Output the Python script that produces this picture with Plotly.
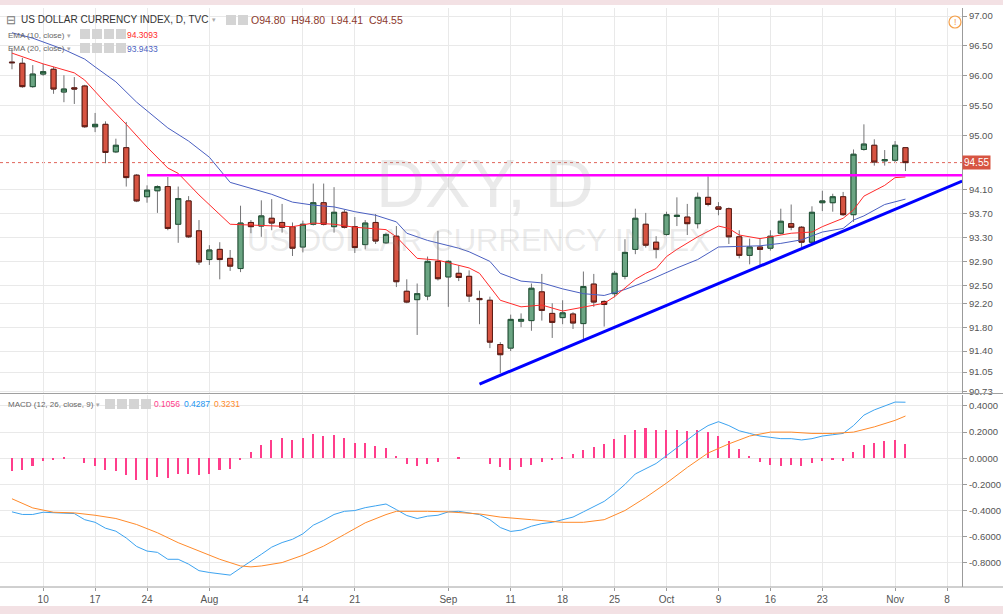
import pandas as pd
import plotly.graph_objects as go

# ---------------- data ----------------
dates = [d.strftime("%Y-%m-%d") for d in pd.bdate_range("2017-07-05", "2017-11-02")]

opens = [96.23, 96.21, 95.82, 96.03, 96.11, 95.73, 95.80, 95.83, 95.15, 95.19,
         94.73, 94.80, 94.34, 93.98, 94.08, 94.15, 93.52, 93.91, 93.41, 92.93,
         93.10, 92.95, 92.78, 93.55, 93.49, 93.62, 93.55, 93.48, 93.14, 93.52,
         93.88, 93.48, 93.72, 93.48, 93.18, 93.55, 93.21, 93.32, 92.40, 92.26,
         92.32, 92.90, 92.64, 92.70, 92.65, 92.28, 92.25, 91.51, 91.45, 91.90,
         91.91, 92.39, 92.03, 91.96, 92.02, 91.86, 92.52, 92.23, 92.36, 92.65,
         93.10, 93.52, 93.22, 93.35, 93.65, 93.64, 93.53, 93.97, 93.81, 93.78,
         93.31, 93.00, 93.14, 93.12, 93.37, 93.53, 93.47, 93.22, 93.88, 93.88,
         93.98, 93.68, 94.77, 94.84, 94.58, 94.59, 94.80]
highs = [96.46, 96.30, 96.18, 96.20, 96.15, 96.01, 95.98, 95.85, 95.38, 95.24,
         94.95, 95.23, 94.36, 94.17, 94.17, 94.31, 94.15, 93.99, 93.59, 93.17,
         93.22, 93.09, 93.83, 93.59, 93.92, 93.94, 93.86, 93.55, 93.58, 94.20,
         94.20, 94.14, 93.76, 93.64, 93.59, 93.69, 93.38, 93.49, 92.60, 92.53,
         92.98, 93.41, 92.92, 92.83, 92.75, 92.41, 92.31, 91.55, 92.01, 92.03,
         92.53, 92.69, 92.20, 92.25, 92.05, 92.73, 92.69, 92.25, 92.74, 93.27,
         93.78, 93.71, 93.32, 93.73, 93.97, 93.86, 94.05, 94.32, 93.89, 93.80,
         93.42, 93.28, 93.28, 93.42, 93.78, 93.85, 93.49, 93.82, 94.08, 94.03,
         94.06, 94.77, 95.19, 94.94, 94.76, 94.91, 94.80]
lows = [96.11, 95.80, 95.80, 96.00, 95.70, 95.56, 95.53, 95.13, 95.06, 94.54,
        94.71, 94.15, 93.89, 93.88, 93.71, 93.42, 93.21, 93.29, 92.84, 92.84,
        92.60, 92.74, 92.72, 93.37, 93.31, 93.42, 93.38, 92.99, 93.05, 93.50,
        93.50, 93.38, 93.45, 93.04, 93.10, 93.19, 93.19, 92.47, 92.20, 91.67,
        92.25, 92.58, 92.14, 92.57, 92.22, 91.85, 91.45, 91.03, 91.40, 91.80,
        91.74, 91.91, 91.62, 91.85, 91.77, 91.58, 92.14, 91.81, 92.30, 92.60,
        93.02, 93.13, 92.95, 93.33, 93.49, 93.34, 93.45, 93.82, 93.67, 93.19,
        92.95, 92.85, 92.82, 93.08, 93.35, 93.42, 93.14, 93.20, 93.74, 93.73,
        93.66, 93.56, 94.75, 94.50, 94.50, 94.56, 94.41]
closes = [96.22, 95.82, 96.03, 96.07, 95.78, 95.78, 95.78, 95.15, 95.19, 94.72,
          94.84, 94.30, 93.91, 94.09, 94.15, 93.45, 93.95, 93.31, 92.89, 93.09,
          92.93, 92.82, 93.54, 93.48, 93.66, 93.54, 93.47, 93.12, 93.52, 93.88,
          93.52, 93.72, 93.47, 93.13, 93.54, 93.24, 93.35, 92.56, 92.22, 92.36,
          92.90, 92.61, 92.90, 92.63, 92.32, 92.26, 91.55, 91.34, 91.93, 91.93,
          92.45, 92.08, 91.88, 92.04, 91.87, 92.48, 92.22, 92.18, 92.70, 93.05,
          93.62, 93.17, 93.10, 93.68, 93.67, 93.53, 93.97, 93.85, 93.77, 93.31,
          93.00, 93.14, 93.10, 93.32, 93.57, 93.47, 93.22, 93.72, 93.91, 93.98,
          93.68, 94.69, 94.86, 94.56, 94.60, 94.84, 94.55]

# EMA lines (bar index -> value)
ema10_idx = [0, 3, 6, 7, 9, 11, 13, 15, 16, 18, 21, 23, 25, 27, 29, 31, 33, 36, 37, 39,
             41, 43, 44, 45, 47, 49, 51, 53, 55, 57, 58, 59, 60, 61, 62, 63, 64, 66, 68,
             69, 70, 72, 73, 75, 77, 78, 80, 81, 82, 84, 85, 86]
ema10_val = [96.38, 96.20, 96.05, 95.93, 95.55, 95.19, 94.81, 94.46, 94.37, 94.01, 93.52,
             93.51, 93.50, 93.48, 93.54, 93.52, 93.47, 93.43, 93.31, 92.95, 92.92, 92.84,
             92.79, 92.70, 92.25, 92.14, 92.17, 92.07, 92.13, 92.20, 92.31, 92.45, 92.60,
             92.70, 92.78, 92.98, 93.10, 93.31, 93.49, 93.45, 93.34, 93.28, 93.31, 93.37,
             93.39, 93.48, 93.62, 93.76, 93.99, 94.17, 94.30, 94.31]
ema20_idx = [0, 2, 5, 7, 8, 10, 12, 15, 17, 19, 21, 23, 25, 27, 29, 31, 33, 35, 37, 38,
             40, 43, 44, 46, 47, 49, 51, 53, 55, 57, 59, 61, 62, 64, 66, 68, 70, 72, 74,
             76, 78, 80, 81, 82, 84, 86]
ema20_val = [96.72, 96.63, 96.44, 96.28, 96.15, 95.90, 95.56, 95.13, 94.91, 94.64, 94.22,
             94.12, 94.02, 93.89, 93.84, 93.81, 93.73, 93.67, 93.56, 93.37, 93.25, 93.12,
             93.06, 92.90, 92.70, 92.57, 92.54, 92.44, 92.36, 92.33, 92.43, 92.56, 92.64,
             92.79, 92.93, 93.14, 93.15, 93.16, 93.20, 93.26, 93.39, 93.45, 93.59, 93.66,
             93.85, 93.94]

# MACD pane
macd_idx = [0, 1, 2, 3, 5, 6, 7, 8, 9, 10, 11, 12, 13, 14, 15, 16, 17, 18, 19, 20, 21,
            22, 23, 24, 25, 26, 27, 28, 29, 30, 31, 32, 33, 34, 35, 36, 37, 38, 39, 40,
            41, 42, 43, 45, 46, 47, 48, 49, 50, 51, 52, 53, 54, 55, 56, 57, 58, 59, 60,
            61, 62, 63, 64, 65, 66, 67, 68, 69, 70, 71, 72, 73, 74, 75, 76, 77, 78, 79,
            80, 81, 82, 83, 84, 85, 86]
macd_val = [-0.41, -0.43, -0.43, -0.413, -0.42, -0.423, -0.47, -0.49, -0.535, -0.558,
            -0.61, -0.675, -0.71, -0.72, -0.773, -0.773, -0.81, -0.86, -0.874, -0.884,
            -0.894, -0.84, -0.79, -0.735, -0.68, -0.645, -0.62, -0.578, -0.512, -0.475,
            -0.43, -0.406, -0.40, -0.378, -0.364, -0.35, -0.393, -0.438, -0.461, -0.443,
            -0.436, -0.41, -0.406, -0.431, -0.47, -0.53, -0.56, -0.55, -0.52, -0.50,
            -0.49, -0.47, -0.45, -0.41, -0.37, -0.33, -0.27, -0.20, -0.12, -0.08, -0.04,
            0.02, 0.08, 0.14, 0.20, 0.25, 0.28, 0.25, 0.21, 0.19, 0.17, 0.16, 0.15, 0.15,
            0.14, 0.15, 0.17, 0.18, 0.19, 0.25, 0.33, 0.37, 0.40, 0.43, 0.4287]
signal_idx = [0, 2, 4, 6, 8, 10, 12, 14, 16, 18, 20, 22, 23, 24, 26, 28, 30, 32, 34, 36,
              37, 40, 42, 45, 47, 50, 53, 55, 57, 59, 61, 63, 65, 67, 69, 71, 73, 75, 77,
              79, 81, 83, 85, 86]
signal_val = [-0.31, -0.38, -0.413, -0.418, -0.436, -0.461, -0.507, -0.57, -0.646, -0.71,
              -0.773, -0.824, -0.831, -0.824, -0.798, -0.742, -0.672, -0.583, -0.494,
              -0.431, -0.406, -0.406, -0.41, -0.426, -0.45, -0.47, -0.49, -0.49, -0.47,
              -0.40, -0.30, -0.19, -0.07, 0.04, 0.11, 0.17, 0.20, 0.20, 0.19, 0.19, 0.20,
              0.24, 0.29, 0.3231]
hist_val = [-0.10, -0.093, -0.056, -0.018, -0.013, 0.003, 0.0, -0.033, -0.056, -0.093,
            -0.10, -0.131, -0.169, -0.164, -0.14, -0.15, -0.12, -0.12, -0.13, -0.12,
            -0.093, -0.081, -0.01, 0.045, 0.10, 0.139, 0.157, 0.139, 0.157, 0.184,
            0.172, 0.177, 0.157, 0.116, 0.116, 0.093, 0.081, 0.018, -0.043, -0.063,
            -0.043, -0.03, 0.0, 0.013, 0.0, 0.0, -0.045, -0.07, -0.09, -0.07,
            -0.05, -0.03, -0.01, 0.01, 0.03, 0.06, 0.09, 0.11, 0.15, 0.18,
            0.22, 0.23, 0.22, 0.22, 0.22, 0.21, 0.22, 0.20, 0.17, 0.13,
            0.07, 0.02, -0.03, -0.05, -0.06, -0.05, -0.06, -0.04, -0.02, -0.01,
            -0.02, 0.05, 0.10, 0.12, 0.13, 0.14, 0.1056]

# drawings
level_x = ["2017-07-24", "2017-11-09 11:00"]
level_y = [94.34, 94.34]
trend_x = ["2017-09-06", "2017-11-09 11:00"]
trend_y = [90.85, 94.24]
last_price = 94.55

# axes labels
price_ticks = [97.00, 96.50, 96.00, 95.50, 95.00, 94.10, 93.70, 93.30, 92.90, 92.50,
               92.20, 91.80, 91.40, 91.05, 90.73]
macd_ticks = [0.4, 0.2, 0.0, -0.2, -0.4, -0.6, -0.8]
date_ticks = ["2017-07-10", "2017-07-17", "2017-07-24", "2017-08-01", "2017-08-14",
              "2017-08-21", "2017-09-01", "2017-09-11", "2017-09-18", "2017-09-25",
              "2017-10-02", "2017-10-09", "2017-10-16", "2017-10-23", "2017-11-01",
              "2017-11-08"]
date_labels = ["10", "17", "24", "Aug", "14", "21", "Sep", "11", "18", "25", "Oct", "9",
               "16", "23", "Nov", "8"]

# ---------------- styling helpers ----------------
FONT = "Liberation Sans, Arial, sans-serif"
UP_FILL, DN_FILL = "#6BA583", "#D75442"
UP_LINE, DN_LINE = "#225437", "#5B1A13"
WICK = "#737375"
GRID = "#e9e9e9"
AXIS = "#9b9b9b"
TOP, BOT, RIGHT = 8, 587, 962


def px(x):
    return x / RIGHT


def py(y):
    return (BOT - y) / (BOT - TOP)


def sel(seq, idx):
    return [seq[i] for i in idx]


body_hi = [max(o, c) for o, c in zip(opens, closes)]
body_lo = [min(o, c) for o, c in zip(opens, closes)]

fig = go.Figure()
# wicks (grey)
fig.add_trace(go.Candlestick(
    x=dates, open=opens, high=highs, low=lows, close=closes,
    increasing=dict(fillcolor=UP_FILL, line=dict(color=WICK, width=1)),
    decreasing=dict(fillcolor=DN_FILL, line=dict(color=WICK, width=1)),
    whiskerwidth=0, showlegend=False, hoverinfo="skip"))
# bodies with dark border
fig.add_trace(go.Candlestick(
    x=dates, open=opens, high=body_hi, low=body_lo, close=closes,
    increasing=dict(fillcolor=UP_FILL, line=dict(color=UP_LINE, width=1)),
    decreasing=dict(fillcolor=DN_FILL, line=dict(color=DN_LINE, width=1)),
    whiskerwidth=0, showlegend=False))

fig.add_trace(go.Scatter(x=sel(dates, ema20_idx), y=ema20_val, mode="lines",
                         line=dict(color="#4a5fc1", width=1), showlegend=False))
fig.add_trace(go.Scatter(x=sel(dates, ema10_idx), y=ema10_val, mode="lines",
                         line=dict(color="#ff2a2a", width=1), showlegend=False))
fig.add_trace(go.Scatter(x=level_x, y=level_y, mode="lines",
                         line=dict(color="#ff00ff", width=2.5), showlegend=False))
fig.add_trace(go.Scatter(x=trend_x, y=trend_y, mode="lines",
                         line=dict(color="#0000ff", width=3), showlegend=False))

# MACD pane
fig.add_trace(go.Bar(x=dates, y=hist_val, yaxis="y2", marker=dict(color="#ff3d8b", line=dict(width=0)),
                     width=0.15 * 86400000, showlegend=False))
fig.add_trace(go.Scatter(x=sel(dates, macd_idx), y=macd_val, yaxis="y2", mode="lines",
                         line=dict(color="#3ca3f0", width=1), showlegend=False))
fig.add_trace(go.Scatter(x=sel(dates, signal_idx), y=signal_val, yaxis="y2", mode="lines",
                         line=dict(color="#ff8a2a", width=1), showlegend=False))

shapes = [
    # last price dotted line
    dict(type="line", xref="paper", yref="y", x0=0, x1=1, y0=last_price, y1=last_price,
         line=dict(color="#e0655a", width=1, dash="dot"), layer="below"),
    # pane separator and bottom axis line
    dict(type="line", xref="paper", yref="paper", x0=0, x1=1003 / RIGHT, y0=py(393.5), y1=py(393.5),
         line=dict(color="#a0a0a0", width=1)),
    dict(type="line", xref="paper", yref="paper", x0=0, x1=1003 / RIGHT, y0=0, y1=0,
         line=dict(color="#a0a0a0", width=1)),
    # page bands
    dict(type="rect", xref="paper", yref="paper", x0=-0.01, x1=1003 / RIGHT + 0.01, y0=py(0) + 0.01, y1=py(5),
         fillcolor="#f3e1e4", line=dict(width=0)),
    dict(type="rect", xref="paper", yref="paper", x0=-0.01, x1=1003 / RIGHT + 0.01, y0=py(606), y1=py(616),
         fillcolor="#f3e1e4", line=dict(width=0)),
    # warning icon
    dict(type="circle", xref="paper", yref="paper", x0=px(949), x1=px(961), y0=py(28), y1=py(16),
         line=dict(color="#f5a04a", width=1.2)),
]
# small grey header icons
for (x0, y0) in [(226, 15), (238, 15), (80, 29), (92, 29), (104, 29), (116, 29),
                 (80, 43), (92, 43), (104, 43), (116, 43),
                 (105, 399), (117, 399), (129, 399), (141, 399)]:
    shapes.append(dict(type="rect", xref="paper", yref="paper", x0=px(x0), x1=px(x0 + 10),
                       y0=py(y0 + 10), y1=py(y0), fillcolor="#d4d4d4", line=dict(width=0)))


def ann(x, y, text, size, color, anchor="left", **kw):
    return dict(x=px(x), y=py(y), xref="paper", yref="paper", text=text, showarrow=False,
                xanchor=anchor, yanchor="middle", font=dict(family=FONT, size=size, color=color), **kw)


annotations = [
    ann(485, 183, "DXY, D", 68, "rgba(150,150,150,0.2)", anchor="center"),
    ann(478, 240, "US DOLLAR CURRENCY INDEX", 31, "rgba(150,150,150,0.2)", anchor="center"),
    ann(4, 20, "⊟", 12, "#777"),
    ann(19, 20, "US DOLLAR CURRENCY INDEX, D, TVC", 10, "#333"),
    ann(210, 20, "▾", 7, "#aaa"),
    ann(249, 20, "O94.80  H94.80  L94.41  C94.55", 10.5, "#8c3a2e"),
    ann(6, 35, "EMA (10, close)", 8, "#666"),
    ann(65, 35, "▾", 7, "#aaa"),
    ann(125, 35, "94.3093", 8.5, "#ff2a2a"),
    ann(6, 49, "EMA (20, close)", 8, "#666"),
    ann(65, 49, "▾", 7, "#aaa"),
    ann(125, 49, "93.9433", 8.5, "#4a5fc1"),
    ann(6, 404, "MACD (12, 26, close, 9)", 8, "#666"),
    ann(94, 404, "▾", 7, "#aaa"),
    ann(152, 404, "0.1056", 8.5, "#ff3d8b"),
    ann(182, 404, "0.4287", 8.5, "#2196f3"),
    ann(212, 404, "0.3231", 8.5, "#ff8a2a"),
    ann(955, 22, "!", 9, "#f5a04a", anchor="center"),
    dict(x=1, y=last_price, xref="paper", yref="y", text="94.55", showarrow=False,
         xanchor="left", yanchor="middle", bgcolor="#d75442", borderpad=1,
         font=dict(family=FONT, size=10, color="white")),
]

fig.update_layout(
    width=1003, height=614,
    margin=dict(l=0, r=1003 - RIGHT, t=TOP, b=614 - BOT),
    paper_bgcolor="white", plot_bgcolor="white",
    showlegend=False, bargap=0,
    font=dict(family=FONT, size=10, color="#4d4d4d"),
    xaxis=dict(
        type="date", anchor="y2",
        range=["2017-07-03 20:20", "2017-11-09 10:35"],
        rangebreaks=[dict(bounds=["sat", "mon"])],
        rangeslider=dict(visible=False),
        tickvals=date_ticks, ticktext=date_labels,
        showgrid=True, gridcolor=GRID, gridwidth=1,
        ticks="outside", ticklen=3, tickcolor=AXIS,
        tickfont=dict(size=10, color="#555"),
        showline=False, zeroline=False,
    ),
    yaxis=dict(
        domain=[py(393), 1], side="right", anchor="x",
        range=[90.70, 97.134],
        tickvals=price_ticks, ticktext=[f"{v:.2f}" for v in price_ticks],
        showgrid=True, gridcolor=GRID, zeroline=False,
        showline=True, linecolor=AXIS, linewidth=1,
        ticks="outside", ticklen=4, tickcolor=AXIS,
        tickfont=dict(size=9.5, color="#555"),
    ),
    yaxis2=dict(
        domain=[0, py(395)], side="right", anchor="x",
        range=[-0.985, 0.484],
        tickvals=macd_ticks, ticktext=[f"{v:.4f}" for v in macd_ticks],
        showgrid=True, gridcolor=GRID, zeroline=False,
        showline=True, linecolor=AXIS, linewidth=1,
        ticks="outside", ticklen=4, tickcolor=AXIS,
        tickfont=dict(size=9.5, color="#555"),
    ),
    shapes=shapes,
    annotations=annotations,
)

fig.write_html("out.html", config={"displayModeBar": False},
               post_script="document.body.style.margin='0px';")
